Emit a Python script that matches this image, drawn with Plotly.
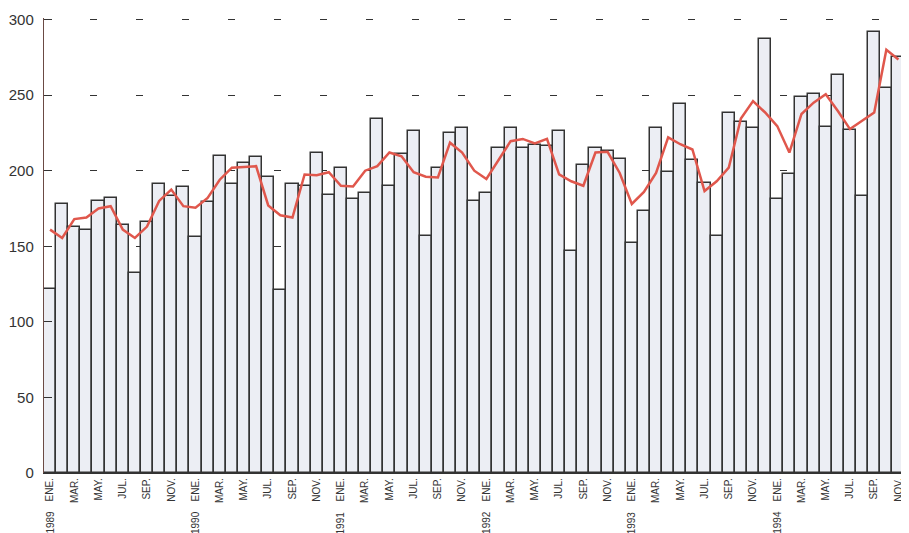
import plotly.graph_objects as go

month_labels = ["ENE.", "MAR.", "MAY.", "JUL.", "SEP.", "NOV."]
years = ["1989", "1990", "1991", "1992", "1993", "1994"]

# monthly values, Jan 1989 .. Dec 1994
bar_values = [
    122, 178, 163, 161, 180, 182, 164, 132, 166, 191, 183, 189,
    156, 179, 210, 191, 205, 209, 196, 121, 191, 190, 212, 184,
    202, 181, 185, 234, 190, 211, 226, 157, 202, 225, 228, 180,
    185, 215, 228, 215, 217, 216, 226, 147, 204, 215, 213, 208,
    152, 173, 228, 199, 244, 207, 192, 157, 238, 232, 228, 287,
    181, 198, 249, 251, 229, 263, 227, 183, 292, 255, 275, 274,
]

# trend line, Jan 1989 .. Nov 1994
trend_values = [
    161, 155.5, 168, 169, 175, 176.5, 161, 155.5, 163, 180, 187.5, 176.5,
    175.5, 182, 194, 202, 202.5, 203, 177, 170.5, 169, 197.5, 197, 199,
    190, 189.5, 200, 203, 212, 209.5, 199, 196, 195.5, 218.5, 212, 200,
    194.5, 207, 219.5, 221, 218, 221, 197.5, 193, 190, 212, 212.5, 198.5,
    178, 186, 198.5, 222, 217.5, 214, 186.5, 193, 202, 234.5, 246, 238.5,
    229.5, 212, 237.5, 245, 250.5, 239.5, 227.5, 233, 238.5, 280, 273.5,
]

x_bars = list(range(len(bar_values)))
x_trend = list(range(len(trend_values)))

fig = go.Figure()
fig.add_trace(go.Bar(
    x=x_bars, y=bar_values,
    marker=dict(color="#eceef4", line=dict(color="#333333", width=1.5)),
    width=1.0, showlegend=False,
))
fig.add_trace(go.Scatter(
    x=x_trend, y=trend_values, mode="lines",
    line=dict(color="#e0574c", width=2.5),
    showlegend=False,
))

tickvals = list(range(0, 72, 2))
ticktext = month_labels * len(years)

annotations = []
for k, yr in enumerate(years):
    annotations.append(dict(
        x=12 * k, y=0, xref="x", yref="paper",
        text=yr, showarrow=False, textangle=-90,
        xanchor="center", yanchor="top", yshift=-36,
        font=dict(family="Liberation Sans, Arial, sans-serif", size=10, color="#333333"),
    ))

fig.update_layout(
    width=901, height=533,
    margin=dict(l=36, r=0, t=10, b=68, autoexpand=False),
    paper_bgcolor="white", plot_bgcolor="white",
    bargap=0,
    annotations=annotations,
    xaxis=dict(
        range=[-0.5, 70.87], tickmode="array", tickvals=tickvals, ticktext=ticktext,
        tickangle=-90, showgrid=False, zeroline=False, showline=True,
        linecolor="#333333", linewidth=1.2, ticks="",
        tickfont=dict(family="Liberation Sans, Arial, sans-serif", size=10, color="#333333"),
        automargin=False, fixedrange=True,
    ),
    yaxis=dict(
        range=[0, 301], tickvals=[0, 50, 100, 150, 200, 250, 300],
        showgrid=True, gridcolor="#333333", gridwidth=1.4, griddash="7px,39px",
        zeroline=False, showline=True, linecolor="#6b4a44", linewidth=1.4,
        ticks="inside", ticklen=8, tickcolor="#333333", tickwidth=1.4,
        ticklabelstandoff=6,
        tickfont=dict(family="Liberation Sans, Arial, sans-serif", size=15, color="#333333"),
        automargin=False, fixedrange=True,
    ),
)

fig.write_html("out.html")
